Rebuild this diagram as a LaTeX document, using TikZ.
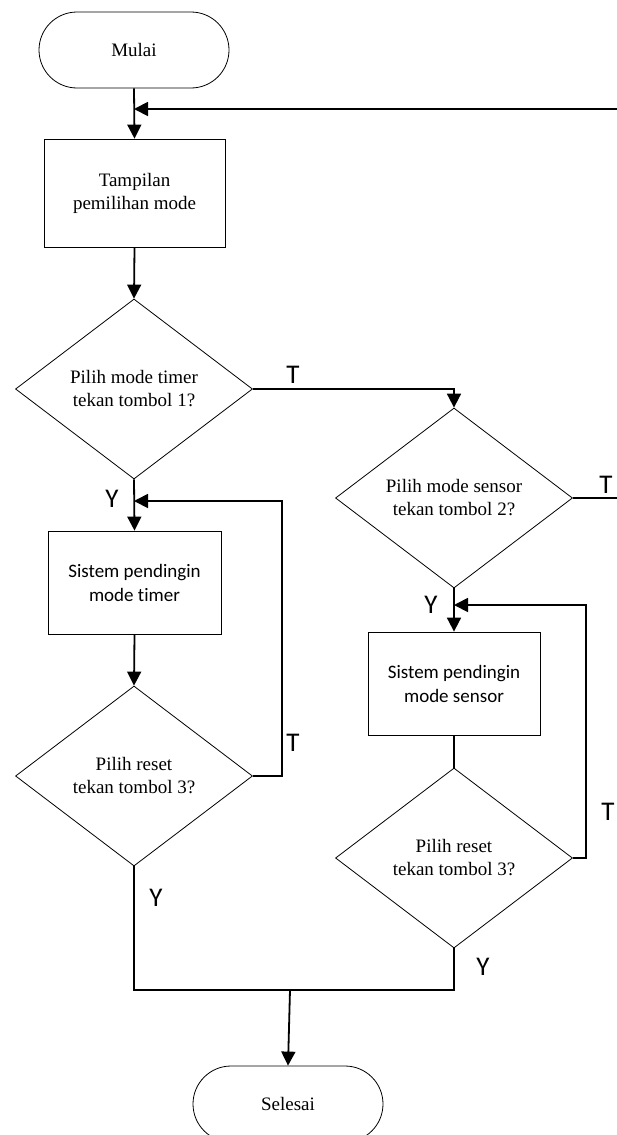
\documentclass[tikz,border=0pt]{standalone}
\usepackage{fontspec}
\setmainfont{Liberation Serif}
\newfontfamily\calfont[Ligatures=NoCommon]{Carlito}
\usetikzlibrary{shapes.geometric,arrows.meta}
\begin{document}
\begin{tikzpicture}[x=1pt,y=-1pt,
  txt/.style={font=\fontsize{19}{23}\selectfont, align=center, inner sep=0pt},
  term/.style={txt, draw, line width=0.8pt, rectangle, rounded corners=38pt, minimum width=190pt, minimum height=76pt},
  proc/.style={txt, draw, line width=0.8pt, rectangle},
  dec/.style={txt, draw, line width=0.8pt, diamond, minimum width=237pt, minimum height=180pt},
  lbl/.style={font=\calfont\fontsize{27}{27}\selectfont, inner sep=0pt},
  conn/.style={line width=1.8pt},
  arr/.style={conn, -{Triangle[length=14pt,width=14pt]}}]
\useasboundingbox (0,0) rectangle (616,1135);
% nodes
\node[term] (mulai) at (134,50) {Mulai};
\node[proc, minimum width=181pt, minimum height=108pt] (tampil) at (134.5,193) {Tampilan\\pemilihan mode};
\node[dec] (d1) at (134,389) {Pilih mode timer\\tekan tombol 1?};
\node[dec] (d2) at (454,498) {Pilih mode sensor\\tekan tombol 2?};
\node[proc, minimum width=173pt, minimum height=103pt, font=\calfont\fontsize{19}{24}\selectfont] (timer) at (134.5,582.5) {Sistem pendingin\\mode timer};
\node[dec] (d3) at (134,776) {Pilih reset\\tekan tombol 3?};
\node[proc, minimum width=172pt, minimum height=103pt, font=\calfont\fontsize{19}{24}\selectfont] (sensor) at (454,683.5) {Sistem pendingin\\mode sensor};
\node[dec] (d4) at (454,858) {Pilih reset\\tekan tombol 3?};
\node[term] (selesai) at (288,1104) {Selesai};
% labels
\node[lbl] (t1) at (293,375) {T};
\node[lbl] (t2) at (606,485) {T};
\node[lbl] (t3) at (293,743) {T};
\node[lbl] (t4) at (608,812) {T};
\node[lbl] (y1) at (112,499) {Y};
\node[lbl] (y2) at (431,605) {Y};
\node[lbl] (y3) at (156,898) {Y};
\node[lbl] (y4) at (483,967) {Y};
% coordinates
\coordinate (j1) at (134,109);
\coordinate (r1) at (621,109);
\coordinate (r2) at (621,498);
\coordinate (k1) at (454,389);
\coordinate (j2) at (134,501);
\coordinate (c3) at (282,776);
\coordinate (j3) at (454,605);
\coordinate (c4) at (586,858);
\coordinate (b1) at (134,990);
\coordinate (b2) at (454,990);
\coordinate (bm) at (290,990);
% connectors
\draw[arr] (mulai.south) -- (tampil.north);
\draw[arr] (r2) -- (r1) -- (j1);
\draw[conn] (d2.east) -- (r2);
\draw[arr] (tampil.south) -- (d1.north);
\draw[arr] (d1.east) -- (k1) -- (d2.north);
\draw[arr] (d1.south) -- (timer.north);
\draw[arr] (d3.east) -- (c3) |- (j2);
\draw[arr] (timer.south) -- (d3.north);
\draw[arr] (d2.south) -- (sensor.north);
\draw[conn] (sensor.south) -- (d4.north);
\draw[arr] (d4.east) -- (c4) |- (j3);
\draw[conn] (d3.south) -- (b1) -- (b2) -- (d4.south);
\draw[arr] (bm) -- (selesai.north);
\end{tikzpicture}
\end{document}
